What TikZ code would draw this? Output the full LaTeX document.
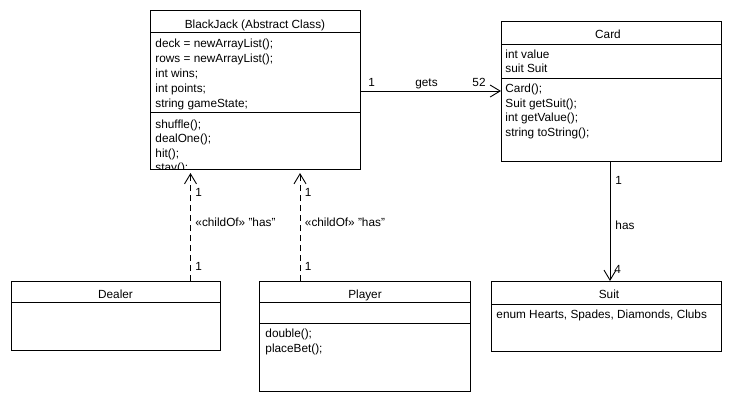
\documentclass[tikz,border=0pt]{standalone}
\usepackage{fontspec}
\setmainfont{Liberation Sans}
\usetikzlibrary{arrows.meta}
\tikzset{
    classbox/.style={draw, anchor=north west, inner sep=0pt, outer sep=0pt},
    heading/.style={anchor=base, inner sep=0pt},
    member/.style={anchor=base west, inner sep=0pt},
    mult/.style={anchor=base west, inner sep=0pt},
    relation/.style={-{Straight Barb[length=10pt, width=12pt]}},
    dependency/.style={relation, dash pattern=on 6pt off 4pt},
}

\begin{document}
\begin{tikzpicture}[x=1pt, y=-1pt, line width=0.9pt,
        font=\fontsize{11.8}{14}\selectfont]
    \useasboundingbox (0,0) rectangle (730,400);

    % BlackJack
    \node[classbox, minimum width=210pt, minimum height=159pt] (blackjack)
        at (150,10) {};
    \node[heading] (bjtitle) at (255,28.5) {BlackJack (Abstract Class)};
    \draw (blackjack.west |- 0,32) -- (blackjack.east |- 0,32);
    \draw (blackjack.west |- 0,112) -- (blackjack.east |- 0,112);
    \begin{scope}
        \clip (150,10) rectangle (360,169);
        \foreach \txt [count=\i from 0] in {{deck = newArrayList();},
                {rows = newArrayList();}, {int wins;}, {int points;},
                {string gameState;}}
            \node[member] (bjattr\i) at (155,47+15*\i) {\txt};
        \foreach \txt [count=\i from 0] in {{shuffle();}, {dealOne();},
                {hit();}, {stay();}}
            \node[member] (bjop\i) at (155,128+14.5*\i) {\txt};
    \end{scope}

    % Card
    \node[classbox, minimum width=220pt, minimum height=140pt] (card)
        at (501,21) {};
    \node[heading] (cardtitle) at (608,38) {Card};
    \draw (card.west |- 0,44) -- (card.east |- 0,44);
    \draw (card.west |- 0,78) -- (card.east |- 0,78);
    \foreach \txt [count=\i from 0] in {{int value}, {suit Suit}}
        \node[member] (cardattr\i) at (505,58+14.6*\i) {\txt};
    \foreach \txt [count=\i from 0] in {{Card();}, {Suit getSuit();},
            {int getValue();}, {string toString();}}
        \node[member] (cardop\i) at (505,92.5+14.6*\i) {\txt};

    % Suit
    \node[classbox, minimum width=230pt, minimum height=70pt] (suit)
        at (491,281) {};
    \node[heading] (suittitle) at (609,298) {Suit};
    \draw (suit.west |- 0,304) -- (suit.east |- 0,304);
    \node[member] (suitattr) at (496,318) {enum Hearts, Spades, Diamonds, Clubs};

    % Dealer
    \node[classbox, minimum width=209pt, minimum height=69pt] (dealer)
        at (11,281) {};
    \node[heading] (dealertitle) at (115.5,298) {Dealer};
    \draw (dealer.west |- 0,302) -- (dealer.east |- 0,302);

    % Player
    \node[classbox, minimum width=211pt, minimum height=110pt] (player)
        at (259,281) {};
    \node[heading] (playertitle) at (365,298) {Player};
    \draw (player.west |- 0,302) -- (player.east |- 0,302);
    \draw (player.west |- 0,323) -- (player.east |- 0,323);
    \foreach \txt [count=\i from 0] in {{double();}, {placeBet();}}
        \node[member] (playerop\i) at (265,337+15*\i) {\txt};

    % gets
    \draw[relation] ([yshift=-1.5pt]blackjack.east)
        -- ([yshift=-1.5pt]blackjack.east -| card.west);
    \node[mult] (getsfrom) at (368,86) {1};
    \node[heading] (getslabel) at (426.5,86) {gets};
    \node[mult] (getsto) at (472,86) {52};

    % has
    \draw[relation] ([xshift=-1pt]card.south)
        -- ([xshift=-1pt]card.south |- suit.north);
    \node[mult] (hasfrom) at (615,184) {1};
    \node[mult] (haslabel) at (615,229) {has};
    \node[mult] (hasto) at (614,273) {4};

    % childOf
    \coordinate (dealerlink) at (190.5,0);
    \coordinate (playerlink) at (300,0);
    \draw[dependency] (dealerlink |- dealer.north)
        -- ([yshift=-4pt]dealerlink |- blackjack.south);
    \draw[dependency] (playerlink |- player.north)
        -- ([yshift=-4pt]playerlink |- blackjack.south);
    \foreach \link/\name in {dealerlink/dealer, playerlink/player} {
        \node[mult] (\name top) at ([xshift=4.5pt]\link |- 0,196) {1};
        \node[mult] (\name label) at ([xshift=4.5pt]\link |- 0,226)
            {«childOf» "has"};
        \node[mult] (\name bottom) at ([xshift=4.5pt]\link |- 0,270) {1};
    }
\end{tikzpicture}
\end{document}
